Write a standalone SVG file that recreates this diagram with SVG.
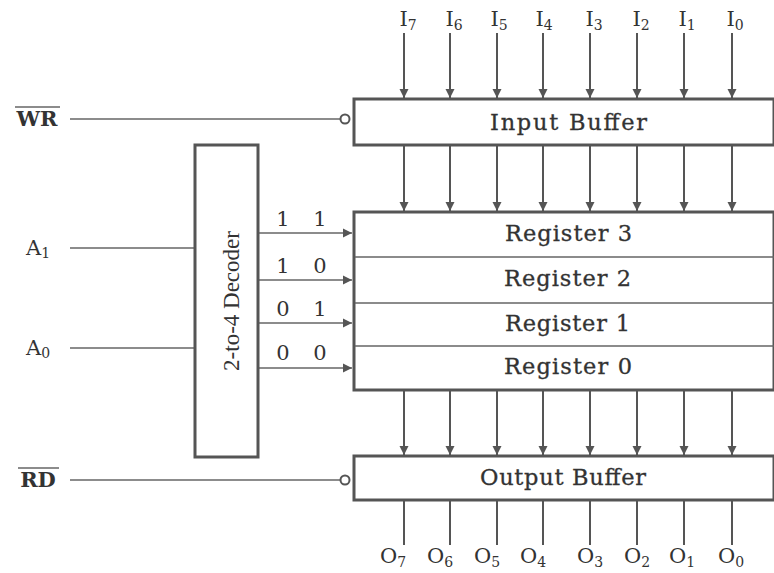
<svg xmlns="http://www.w3.org/2000/svg" width="774" height="573" viewBox="0 0 774 573">
<defs>
<marker id="ah" markerWidth="10" markerHeight="12" refX="9" refY="5" orient="auto" markerUnits="userSpaceOnUse">
<path d="M0,0.5 L9,5 L0,9.5 Z" fill="#555"/>
</marker>
<style>
.t{font-family:"DejaVu Serif","Liberation Serif",serif;fill:#333;font-size:21px}
.b{font-size:22.5px;stroke:#333;stroke-width:0.3}
.s{font-size:14px}
.box{fill:#fff;stroke:#555;stroke-width:3}
.ln{stroke:#555;stroke-width:2;fill:none}
.ar{stroke:#555;stroke-width:2;fill:none;marker-end:url(#ah)}
.thin{stroke:#666;stroke-width:1.6;fill:none}
.tha{stroke:#666;stroke-width:1.6;fill:none;marker-end:url(#ah)}
</style>
</defs>
<rect width="774" height="573" fill="#fff"/>

<g id="connectors">
<line class="ar" x1="404" y1="33" x2="404" y2="98"/>
<line class="ar" x1="450" y1="33" x2="450" y2="98"/>
<line class="ar" x1="497" y1="33" x2="497" y2="98"/>
<line class="ar" x1="543" y1="33" x2="543" y2="98"/>
<line class="ar" x1="590" y1="33" x2="590" y2="98"/>
<line class="ar" x1="637" y1="33" x2="637" y2="98"/>
<line class="ar" x1="684" y1="33" x2="684" y2="98"/>
<line class="ar" x1="732" y1="33" x2="732" y2="98"/>

<line class="ar" x1="404" y1="146" x2="404" y2="211"/>
<line class="ar" x1="450" y1="146" x2="450" y2="211"/>
<line class="ar" x1="497" y1="146" x2="497" y2="211"/>
<line class="ar" x1="543" y1="146" x2="543" y2="211"/>
<line class="ar" x1="590" y1="146" x2="590" y2="211"/>
<line class="ar" x1="637" y1="146" x2="637" y2="211"/>
<line class="ar" x1="684" y1="146" x2="684" y2="211"/>
<line class="ar" x1="732" y1="146" x2="732" y2="211"/>

<line class="ar" x1="404" y1="391" x2="404" y2="455"/>
<line class="ar" x1="450" y1="391" x2="450" y2="455"/>
<line class="ar" x1="497" y1="391" x2="497" y2="455"/>
<line class="ar" x1="543" y1="391" x2="543" y2="455"/>
<line class="ar" x1="590" y1="391" x2="590" y2="455"/>
<line class="ar" x1="637" y1="391" x2="637" y2="455"/>
<line class="ar" x1="684" y1="391" x2="684" y2="455"/>
<line class="ar" x1="732" y1="391" x2="732" y2="455"/>

<path class="ln" d="M404,500V545M450,500V545M497,500V545M543,500V545M590,500V545M637,500V545M684,500V545M732,500V545"/>

<path class="thin" d="M70,119H340"/>
<path class="thin" d="M70,480H340"/>
<path class="thin" d="M70,248H195"/>
<path class="thin" d="M70,348H195"/>

<line class="tha" x1="259" y1="233" x2="352" y2="233"/>
<line class="tha" x1="259" y1="280" x2="352" y2="280"/>
<line class="tha" x1="259" y1="323" x2="352" y2="323"/>
<line class="tha" x1="259" y1="368" x2="352" y2="368"/>
<circle cx="345" cy="119" r="4.5" fill="#fff" stroke="#555" stroke-width="2"/>
<circle cx="345" cy="480" r="4.5" fill="#fff" stroke="#555" stroke-width="2"/>
</g>

<g id="input-labels">
<text class="t" x="408" y="26" text-anchor="middle">I<tspan class="s" dy="4">7</tspan></text>
<text class="t" x="454" y="26" text-anchor="middle">I<tspan class="s" dy="4">6</tspan></text>
<text class="t" x="499" y="26" text-anchor="middle">I<tspan class="s" dy="4">5</tspan></text>
<text class="t" x="544" y="26" text-anchor="middle">I<tspan class="s" dy="4">4</tspan></text>
<text class="t" x="594" y="26" text-anchor="middle">I<tspan class="s" dy="4">3</tspan></text>
<text class="t" x="641" y="26" text-anchor="middle">I<tspan class="s" dy="4">2</tspan></text>
<text class="t" x="687" y="26" text-anchor="middle">I<tspan class="s" dy="4">1</tspan></text>
<text class="t" x="735" y="26" text-anchor="middle">I<tspan class="s" dy="4">0</tspan></text>
</g>

<g id="input-buffer">
<rect class="box" x="354" y="99" width="420" height="46"/>
<text class="t b" x="490" y="130" textLength="157">Input  Buffer</text>
</g>

<g id="registers">
<rect class="box" x="354" y="212" width="420" height="178"/>
<path class="thin" d="M355,257H774M355,303H774M355,346H774"/>
<text class="t b" x="505" y="241" textLength="127">Register 3</text>
<text class="t b" x="504" y="286" textLength="127">Register 2</text>
<text class="t b" x="505" y="331" textLength="125">Register 1</text>
<text class="t b" x="504" y="374" textLength="128">Register 0</text>
</g>

<g id="decoder">
<rect class="box" x="195" y="145" width="63" height="312"/>
<text transform="translate(239,301) rotate(-90)" text-anchor="middle" style="font-family:'Liberation Serif','Times New Roman',serif;font-size:23px;fill:#333">2-to-4 Decoder</text>
</g>

<g id="decoder-codes">
<text class="t" x="283" y="226" text-anchor="middle">1</text><text class="t" x="320" y="226" text-anchor="middle">1</text>
<text class="t" x="283" y="273" text-anchor="middle">1</text><text class="t" x="320" y="273" text-anchor="middle">0</text>
<text class="t" x="283" y="316" text-anchor="middle">0</text><text class="t" x="320" y="316" text-anchor="middle">1</text>
<text class="t" x="283" y="360" text-anchor="middle">0</text><text class="t" x="320" y="360" text-anchor="middle">0</text>
</g>

<g id="output-buffer">
<rect class="box" x="354" y="456" width="420" height="44"/>
<text class="t b" x="480" y="485" textLength="166">Output Buffer</text>
</g>

<g id="output-labels">
<text class="t" x="393" y="563" text-anchor="middle">O<tspan class="s" dy="4">7</tspan></text>
<text class="t" x="440" y="563" text-anchor="middle">O<tspan class="s" dy="4">6</tspan></text>
<text class="t" x="487" y="563" text-anchor="middle">O<tspan class="s" dy="4">5</tspan></text>
<text class="t" x="533" y="563" text-anchor="middle">O<tspan class="s" dy="4">4</tspan></text>
<text class="t" x="590" y="563" text-anchor="middle">O<tspan class="s" dy="4">3</tspan></text>
<text class="t" x="637" y="563" text-anchor="middle">O<tspan class="s" dy="4">2</tspan></text>
<text class="t" x="682" y="563" text-anchor="middle">O<tspan class="s" dy="4">1</tspan></text>
<text class="t" x="731" y="563" text-anchor="middle">O<tspan class="s" dy="4">0</tspan></text>
</g>

<g id="signals">
<text class="t" x="37" y="126" text-anchor="middle" style="font-weight:bold;font-size:21px">WR</text>
<path class="thin" d="M15,107H60"/>
<text class="t" x="38" y="487" text-anchor="middle" style="font-weight:bold;font-size:21px">RD</text>
<path class="thin" d="M18,468H59"/>
<text class="t" x="26" y="255">A<tspan class="s" dy="3">1</tspan></text>
<text class="t" x="26" y="355">A<tspan class="s" dy="3">0</tspan></text>
</g>
</svg>
